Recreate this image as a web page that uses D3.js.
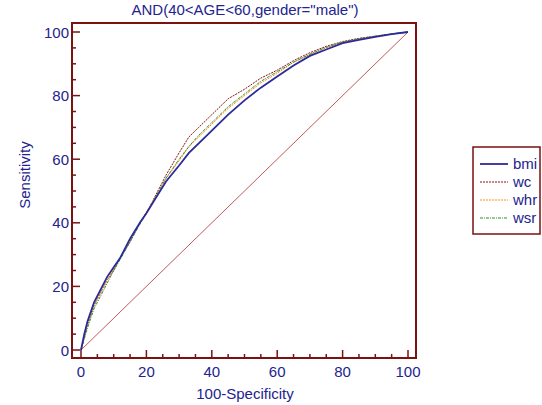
<!DOCTYPE html>
<html>
<head>
<meta charset="utf-8">
<title>ROC</title>
<style>
  body { margin: 0; background: #fff; }
  text { font-family: "Liberation Sans", Arial, sans-serif; }
</style>
</head>
<body>
<svg width="542" height="405"></svg>
<script src="https://d3js.org/d3.v7.min.js"></script>
<script>

// 100-Specificity values shared by every curve
fpr = [0, 1, 2, 4, 6, 8, 10, 12, 15, 18, 20, 23, 26, 30, 33, 36, 40, 45, 50, 55, 60, 65, 70, 75, 80, 85, 90, 95, 100]
// sensitivity for each marker
bmi = [0, 5, 9, 15, 19, 23, 26, 29, 35, 40, 43, 48, 53, 58, 62, 65, 69, 74, 78.5, 82.5, 86, 89.5, 92.5, 94.5, 96.5, 97.5, 98.5, 99.3, 100]
wc  = [0, 4, 8, 14, 18, 22, 25, 29, 34, 40, 43, 49, 55, 62, 67, 70, 74, 79, 82, 85.5, 88, 91, 93.5, 95.5, 97, 98, 98.7, 99.4, 100]
whr = [0, 4, 8, 14, 18, 22, 25.5, 29, 34.5, 40, 43.5, 48.5, 54, 59.5, 64, 67, 71, 76, 80, 84, 87, 90.5, 93, 95, 96.7, 97.8, 98.6, 99.3, 100]
wsr = [0, 3.5, 7, 13, 17, 21, 25, 28.5, 34, 39.5, 43, 48.5, 54, 60, 64, 67.5, 71.5, 76.5, 80.5, 84.5, 87.5, 90.5, 93, 95.2, 96.8, 97.9, 98.7, 99.4, 100]
names = ["bmi", "wc", "whr", "wsr"]
majorTicks = [0, 20, 40, 60, 80, 100]

navy = "#23238e"
frame = "#7a1212"
fs = 15

series = [
  {name: "bmi", values: bmi, color: "#2a2a9c", width: 1.8, dash: null},
  {name: "wc",  values: wc,  color: "#8b1010", width: 1, dash: "2,1"},
  {name: "whr", values: whr, color: "#ff8c1a", width: 1, dash: "2,1"},
  {name: "wsr", values: wsr, color: "#2f8f2f", width: 1, dash: "3,1,1,1"}
]

svg = d3.select("svg")

x = d3.scaleLinear().domain([0, 100]).range([81, 408])
y = d3.scaleLinear().domain([0, 100]).range([350, 32])

// frame
svg.append("rect")
  .attr("x", 72).attr("y", 23)
  .attr("width", 344).attr("height", 335)
  .attr("fill", "none")
  .attr("stroke", frame)
  .attr("stroke-width", 2)

// ticks every 5, longer on the labelled ones
minor = d3.range(0, 101, 5)
svg.append("g").selectAll("line")
  .data(minor)
  .join("line")
    .attr("x1", d => x(d)).attr("x2", d => x(d))
    .attr("y1", 358).attr("y2", d => d % 20 ? 354 : 350)
    .attr("stroke", frame).attr("stroke-width", 1.5)
svg.append("g").selectAll("line")
  .data(minor)
  .join("line")
    .attr("y1", d => y(d)).attr("y2", d => y(d))
    .attr("x1", 72).attr("x2", d => d % 20 ? 76 : 80)
    .attr("stroke", frame).attr("stroke-width", 1.5)

svg.append("g").selectAll("text")
  .data(majorTicks)
  .join("text")
    .attr("x", d => x(d)).attr("y", 377)
    .attr("text-anchor", "middle")
    .attr("font-size", fs).attr("fill", navy)
    .text(d => d)
svg.append("g").selectAll("text")
  .data(majorTicks)
  .join("text")
    .attr("x", 69).attr("y", d => y(d) + 5.5)
    .attr("text-anchor", "end")
    .attr("font-size", fs).attr("fill", navy)
    .text(d => d)

svg.append("text")
  .attr("x", 245).attr("y", 399)
  .attr("text-anchor", "middle")
  .attr("font-size", fs).attr("fill", navy)
  .text("100-Specificity")
svg.append("text")
  .attr("transform", "translate(30,175) rotate(-90)")
  .attr("text-anchor", "middle")
  .attr("font-size", fs).attr("fill", navy)
  .text("Sensitivity")
svg.append("text")
  .attr("x", 245).attr("y", 15)
  .attr("text-anchor", "middle")
  .attr("font-size", fs).attr("fill", navy)
  .text('AND(40<AGE<60,gender="male")')

// reference diagonal
svg.append("line")
  .attr("x1", x(0)).attr("y1", y(0))
  .attr("x2", x(100)).attr("y2", y(100))
  .attr("stroke", "#b03030").attr("stroke-width", 0.8)

line = d3.line()
  .x((d, i) => x(fpr[i]))
  .y(d => y(d))

// draw bmi last so it sits on top like the reference
svg.append("g").selectAll("path")
  .data([series[1], series[2], series[3], series[0]])
  .join("path")
    .attr("d", d => line(d.values))
    .attr("fill", "none")
    .attr("stroke", d => d.color)
    .attr("stroke-width", d => d.width)
    .attr("stroke-dasharray", d => d.dash)

// legend
svg.append("rect")
  .attr("x", 473).attr("y", 147)
  .attr("width", 67).attr("height", 87)
  .attr("fill", "none")
  .attr("stroke", frame)
  .attr("stroke-width", 1.5)
leg = svg.append("g").selectAll("g")
  .data(series)
  .join("g")
    .attr("transform", (d, i) => `translate(0,${164 + i * 18})`)
leg.append("line")
  .attr("x1", 480).attr("x2", 508)
  .attr("stroke", d => d.color)
  .attr("stroke-width", d => d.width)
  .attr("stroke-dasharray", d => d.dash)
leg.append("text")
  .attr("x", 513).attr("y", 5)
  .attr("font-size", fs).attr("fill", navy)
  .text(d => d.name)

</script>
</body>
</html>
